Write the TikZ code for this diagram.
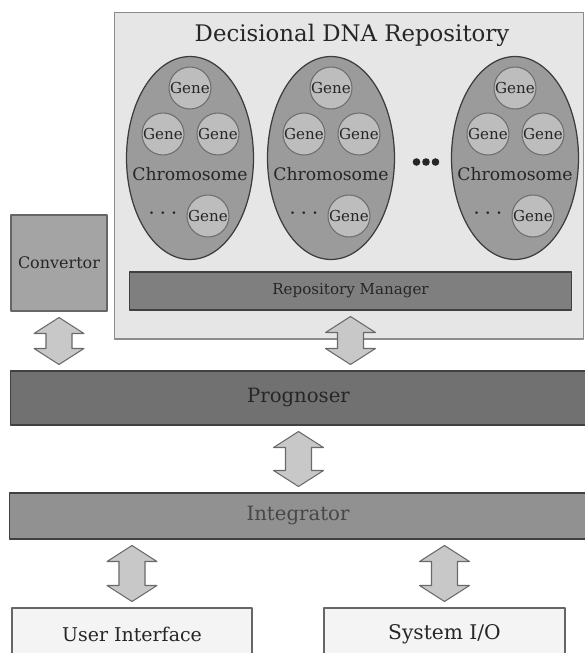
\documentclass[tikz,border=0pt]{standalone}
\usepackage{fontspec}
\setmainfont{DejaVu Serif}
\usetikzlibrary{calc,shapes.geometric}
\definecolor{repofill}{HTML}{E6E6E6}
\definecolor{repoline}{HTML}{8C8C8C}
\definecolor{chromofill}{HTML}{9B9B9B}
\definecolor{chromoline}{HTML}{3C3C3C}
\definecolor{genefill}{HTML}{BDBDBD}
\definecolor{geneline}{HTML}{6E6E6E}
\definecolor{mgrfill}{HTML}{7F7F7F}
\definecolor{convfill}{HTML}{A4A4A4}
\definecolor{progfill}{HTML}{717171}
\definecolor{integfill}{HTML}{919191}
\definecolor{iofill}{HTML}{F4F4F4}
\definecolor{barline}{HTML}{404040}
\definecolor{arrowfill}{HTML}{C8C8C8}
\definecolor{arrowline}{HTML}{6A6A6A}
\definecolor{textgray}{HTML}{262626}

% two-way block arrow between two anchors (x taken from the first one)
\newcommand{\twoway}[3][]{%
  \draw[twowayarrow,#1] let \p1=(#2), \p2=(#3) in
    (\x1,\y1-3.4pt) -- (\x1+14.2pt,\y1-12.5pt) -- (\x1+7.4pt,\y1-12.5pt)
    -- (\x1+7.4pt,\y2+12.5pt) -- (\x1+14.2pt,\y2+12.5pt) -- (\x1,\y2+3.4pt)
    -- (\x1-14.2pt,\y2+12.5pt) -- (\x1-7.4pt,\y2+12.5pt)
    -- (\x1-7.4pt,\y1-12.5pt) -- (\x1-14.2pt,\y1-12.5pt) -- cycle;}

\begin{document}
\begin{tikzpicture}[
    x=0.02cm, y=-0.02cm,
    line join=round,
    box/.style={rectangle, draw=barline, line width=0.6pt, inner sep=0pt, text=textgray},
    chromo/.style={ellipse, draw=chromoline, fill=chromofill, line width=0.7pt,
        minimum width=2.54cm, minimum height=4.06cm, inner sep=0pt},
    gene/.style={circle, draw=geneline, fill=genefill, line width=0.6pt,
        minimum size=0.84cm, inner sep=0pt, text=textgray, font=\fontsize{8.6}{9}\selectfont},
    twowayarrow/.style={draw=arrowline, fill=arrowfill, line width=0.6pt}
]
    \useasboundingbox (0,0) rectangle (585,653);

    % Decisional DNA Repository
    \node[box, draw=repoline, fill=repofill, minimum width=9.4cm, minimum height=6.54cm] (repo) at (349,175.5) {};
    \node[text=textgray, font=\fontsize{13}{15}\selectfont] (title) at (352,35) {Decisional DNA Repository};

    % Chromosomes with their genes
    \foreach \cx [count=\i] in {190,331,515} {
        \node[chromo] (chr\i) at (\cx,158) {};
        \node[gene] (gtop\i) at ($(chr\i)+(0,-70)$) {Gene};
        \node[gene] (gleft\i) at ($(chr\i)+(-27,-24)$) {Gene};
        \node[gene] (gright\i) at ($(chr\i)+(28,-24)$) {Gene};
        \node[gene] (gbot\i) at ($(chr\i)+(18,58)$) {Gene};
        \node[text=textgray, font=\fontsize{9.8}{11}\selectfont] (chrname\i) at ($(chr\i)+(0,16)$) {Chromosome};
        \node[text=textgray, font=\fontsize{15}{15}\selectfont] (more\i) at ($(chr\i)+(-27,56)$) {$\cdots$};
    }
    \foreach \dx in {416.5,426,435.5} {
        \fill[black!85] (\dx,162) circle (3.8);
    }

    % Repository Manager
    \node[box, fill=mgrfill, minimum width=8.86cm, minimum height=0.76cm, font=\fontsize{8.6}{10}\selectfont] (mgr) at (350.5,291) {Repository Manager};

    % Convertor
    \node[box, draw=barline!80, fill=convfill, minimum width=1.92cm, minimum height=1.92cm, font=\fontsize{9.1}{11}\selectfont] (conv) at (59,263) {Convertor};

    % Prognoser and Integrator layers
    \node[box, fill=progfill, minimum width=11.54cm, minimum height=1.08cm, font=\fontsize{11.2}{13}\selectfont] (prog) at (298.5,398) {Prognoser};
    \node[box, fill=integfill, minimum width=11.56cm, minimum height=0.92cm, text=black!72, font=\fontsize{11.2}{13}\selectfont] (integ) at (298,516) {Integrator};

    % User Interface and System I/O
    \node[box, draw=barline!80, fill=iofill, minimum width=4.8cm, minimum height=1.04cm, font=\fontsize{10.8}{13}\selectfont] (ui) at (132,634) {User Interface};
    \node[box, draw=barline!80, fill=iofill, minimum width=4.82cm, minimum height=1.04cm, font=\fontsize{11.5}{13}\selectfont] (sys) at (444.5,634) {System I/O};

    % Two-way arrows
    \twoway{conv.south}{prog.north -| conv.south}
    \twoway[xshift=-0.03cm]{mgr.south}{prog.north -| mgr.south}
    \twoway[xshift=-0.03cm]{prog.south}{integ.north}
    \twoway[xshift=-0.1cm]{integ.south -| ui.north}{ui.north}
    \twoway[xshift=-0.07cm]{integ.south -| sys.north}{sys.north}

\end{tikzpicture}
\end{document}
